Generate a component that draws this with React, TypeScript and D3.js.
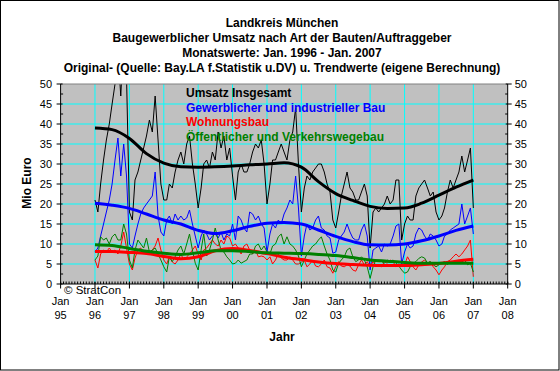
import React from "react";
import * as d3 from "d3";

// ---------- data (Mio Euro, monthly Jan 1996 - Jan 2007) ----------
const insgesamt = [
  21, 18, 25, 31, 36, 40, 45, 50, 58, 47, 62, 52,
  18, 16, 26, 28, 31, 34, 37, 41, 38, 47, 36, 25,
  21, 21, 25, 24, 28, 31, 33, 30, 35, 37, 30, 25,
  19, 24, 30, 31, 29, 33, 31, 38, 34, 37, 31, 34,
  27, 21, 28, 30, 28, 28, 30, 33, 35, 34, 36, 30,
  20, 25, 31, 31, 33, 35, 33, 31, 36, 38, 44, 30,
  18, 24, 27, 26, 28, 29, 30, 30, 28, 25, 23, 16,
  14, 18, 22, 25, 28, 24, 23, 21, 21, 23, 25, 22,
  9, 18, 19, 18, 19, 20, 22, 20, 21, 26, 26, 11,
  15, 17, 16, 16, 22, 24, 25, 26, 24, 22, 23, 18,
  16, 17, 19, 23, 26, 24, 26, 28, 32, 28, 31, 34,
  19,
];
const gewerblich = [
  8, 9, 12, 15, 18, 21, 25, 31, 36.5, 27, 35, 27,
  10, 9, 12, 15, 17.5, 19, 20, 21, 22, 28, 17, 13,
  12, 16, 17, 15, 17.5, 16, 17, 16, 16.5, 18.5, 15, 12,
  9, 12, 13.5, 12.5, 11, 12, 12.5, 11.5, 13, 11, 12.5, 12,
  15, 11, 17, 16, 14, 13, 18, 17.5, 16, 17, 15, 14,
  8, 12.5, 15, 14, 16, 15, 17.5, 19, 21, 20, 27, 19,
  7, 12, 15, 13.5, 14, 16, 17, 14, 13.5, 12, 11.5, 7.7,
  8, 11, 12, 13, 15, 13, 11.5, 11, 11, 13.5, 15, 12,
  3.5, 8.5, 9, 9.5, 8, 10, 9.5, 10, 12, 14.5, 15, 5,
  8, 10, 9, 9.5, 12.5, 14, 13.5, 12, 11, 12.5, 12, 11,
  9.5, 10, 12, 12.5, 13.5, 14, 14.5, 15, 20, 15, 17, 19,
  12.5,
];
const wohnungsbau = [
  6, 4, 7.5, 8.5, 8, 9, 8, 8.5, 7.5, 9.5, 13, 9,
  5, 3.5, 6.5, 8.5, 9, 7.5, 8.5, 7.5, 8.5, 9.5, 11.5, 8.5,
  6, 5, 6.8, 5.5, 5, 6, 7.5, 6, 6.8, 7.5, 8.5, 9.5,
  7.5, 6, 8.5, 9, 10, 11, 10, 9.5, 11, 10, 12, 11.5,
  9.5, 10, 9, 7.5, 9.5, 10, 8.5, 7.5, 8.5, 6.8, 7, 6.8,
  6, 6.8, 5, 6, 7.5, 6.5, 6, 6, 6.8, 6, 5, 5,
  5.5, 6, 4.3, 5, 6, 4.5, 4.3, 5, 6, 4.3, 4, 2.7,
  4.3, 5.6, 4.5, 4.3, 4.8, 4.5, 3.5, 3.2, 4.8, 6, 4.8, 5.6,
  4.3, 5.6, 4.8, 4.5, 4.3, 5.6, 5.2, 6, 5.6, 4.3, 5, 4.5,
  4.8, 6.8, 5.6, 4.3, 3.5, 4.8, 5.5, 6, 5.2, 5.6, 4.3, 3.5,
  2.3, 3.5, 4.3, 5.6, 6, 6.8, 7.5, 6.8, 7.5, 8.5, 9.5, 11,
  1.8,
];
const oeffentlich = [
  6, 7, 11.8, 11, 11.5, 10, 11.8, 12.5, 11, 11, 15, 12.5,
  6, 4, 8.5, 11, 10, 9, 11.5, 8, 8.5, 9, 7.5, 6,
  4.3, 3, 6.8, 5.6, 6.8, 8.5, 9.5, 7.5, 10, 12.5, 8.5, 5.2,
  3.5, 8.5, 12.5, 7, 8.5, 11, 14, 11, 8.5, 8, 6.8, 6,
  5, 5.2, 6, 5.2, 5.6, 6, 7.5, 7.5, 9.5, 10, 8.5, 9.5,
  8, 7.5, 9.5, 10, 11.8, 12.5, 10, 11.8, 10, 9.5, 8.5, 7,
  4.3, 6, 7.5, 8.5, 9.5, 10, 11, 11.8, 9.5, 7.5, 6, 3.5,
  3, 5.2, 6, 6.8, 8.5, 9, 6.8, 5.6, 6, 6.8, 6, 4.3,
  1.4, 4.3, 6, 5.6, 5.6, 5.2, 6, 5.6, 6, 5.2, 4.5, 3.5,
  2.7, 3, 4.3, 5.2, 5.6, 6.4, 6.8, 6.5, 5.2, 5.6, 4.8, 4.3,
  4.8, 5.2, 5.6, 4.8, 5.6, 5.2, 5.6, 5.2, 5.5, 6, 4.8, 5.2,
  3,
];
// Trend values, read every six months (Jan/Jul 1996 - Jan 2007)
const insgesamtTrend = [39.0, 38.6, 36.4, 32.6, 30.2, 29.3, 29.2, 29.3, 29.5, 29.8, 30.0, 30.3, 29.2, 25.6, 22.6, 20.9, 19.4, 18.9, 19.0, 20.2, 22.2, 24.2, 26.0];
const gewerblichTrend = [20.2, 19.7, 18.9, 17.5, 16.0, 15.0, 13.4, 12.6, 13.3, 14.4, 15.2, 15.4, 15.0, 13.5, 11.9, 10.6, 9.8, 9.75, 10.0, 10.8, 12.0, 13.4, 14.5];
const wohnungsbauTrend = [8.1, 8.1, 7.9, 7.6, 6.9, 6.3, 6.8, 8.3, 8.9, 8.4, 7.6, 6.7, 6.1, 5.5, 5.1, 4.9, 4.7, 4.6, 4.6, 4.8, 5.1, 5.7, 6.2];
const oeffentlichTrend = [9.8, 9.6, 8.9, 8.2, 7.7, 7.4, 7.8, 8.3, 8.3, 8.1, 7.8, 7.7, 7.6, 7.4, 7.1, 6.6, 6.0, 5.7, 5.4, 5.2, 5.2, 5.2, 5.2];

const seriesNames = [
  "Umsatz Insgesamt",
  "Gewerblicher und industrieller Bau",
  "Wohnungsbau",
  "Öffentlicher und Verkehrswegebau",
];
const seriesColors = ["#000000", "#0000ff", "#ff0000", "#008000"];
const titleLines = [
  "Landkreis München",
  "Baugewerblicher Umsatz nach Art der Bauten/Auftraggeber",
  "Monatswerte: Jan. 1996 - Jan. 2007",
  "Original- (Quelle: Bay.LA f.Statistik u.DV) u. Trendwerte (eigene Berechnung)",
];
const yTicks = [0, 5, 10, 15, 20, 25, 30, 35, 40, 45, 50];

// ---------- layout ----------
const W = 560;
const H = 371;
const PL = 60.6, PR = 507.7, PT = 84, PB = 284;
const FONT = "'Liberation Sans', Arial, Helvetica, sans-serif";

const monthDates = d3.timeMonth.range(new Date(1996, 0, 1), new Date(2007, 1, 1));
const trendDates = d3.timeMonth.every(6)!.range(new Date(1996, 0, 1), new Date(2007, 1, 1));
const yearDates = d3.timeYear.range(new Date(1995, 0, 1), new Date(2008, 0, 2));
const minorMonths = d3.timeMonth.range(new Date(1995, 0, 1), new Date(2008, 0, 2));

const x = d3.scaleTime().domain([new Date(1995, 0, 1), new Date(2008, 0, 1)]).range([PL, PR]);
const y = d3.scaleLinear().domain([0, 50]).range([PB, PT]);

const rawLine = d3
  .line<number>()
  .x((_, i) => x(monthDates[i]))
  .y((d) => y(d));
const trendLine = d3
  .line<number>()
  .x((_, i) => x(trendDates[i]))
  .y((d) => y(d))
  .curve(d3.curveMonotoneX);

const raws = [insgesamt, gewerblich, wohnungsbau, oeffentlich];
const trends = [insgesamtTrend, gewerblichTrend, wohnungsbauTrend, oeffentlichTrend];
const minorY = d3.range(2.5, 50, 5);

export default function App() {
  const yearFmt = d3.timeFormat("%y");
  return (
    <div style={{ position: "absolute", left: 0, top: 0 }}>
      <svg width={W} height={H} style={{ display: "block" }} fontFamily={FONT}>
        <rect x={0} y={0} width={W} height={H} fill="#ffffff" />
        <rect x={0.5} y={0.5} width={558.5} height={369.5} fill="none" stroke="#000" strokeWidth={1} />
        <defs>
          <clipPath id="plotClip">
            <rect x={PL} y={PT} width={PR - PL} height={PB - PT} />
          </clipPath>
        </defs>

        {/* titles */}
        {titleLines.map((t, i) => (
          <text key={t} x={282} y={27 + i * 15} textAnchor="middle" fontSize={12} fontWeight="bold" fill="#000">
            {t}
          </text>
        ))}

        {/* plot background */}
        <rect x={PL} y={PT} width={PR - PL} height={PB - PT} fill="#c0c0c0" />

        {/* grid */}
        {yTicks.slice(1, -1).map((v) => (
          <line key={"gy" + v} x1={PL} x2={PR} y1={y(v)} y2={y(v)} stroke="#00ffff" strokeWidth={1} />
        ))}
        {yearDates.slice(1, -1).map((d) => (
          <line key={"gx" + d.getTime()} x1={x(d)} x2={x(d)} y1={PT} y2={PB} stroke="#00ffff" strokeWidth={1} />
        ))}

        {/* raw series and trends */}
        <g clipPath="url(#plotClip)">
          {raws.map((s, i) => (
            <path key={"r" + i} d={rawLine(s) || ""} fill="none" stroke={seriesColors[i]} strokeWidth={1} />
          ))}
          {trends.map((s, i) => (
            <path key={"t" + i} d={trendLine(s) || ""} fill="none" stroke={seriesColors[i]} strokeWidth={3} />
          ))}
        </g>

        {/* plot border */}
        <line x1={PL} x2={PR} y1={PT} y2={PT} stroke="#808080" strokeWidth={1} />
        <line x1={PL} x2={PL} y1={PT} y2={PB} stroke="#000" strokeWidth={1} />
        <line x1={PR} x2={PR} y1={PT} y2={PB} stroke="#000" strokeWidth={1} />
        <line x1={PL} x2={PR} y1={PB} y2={PB} stroke="#000" strokeWidth={1} />

        {/* y axes ticks and labels */}
        {yTicks.map((v) => (
          <g key={"yt" + v}>
            <line x1={PL - 4} x2={PL + 2} y1={y(v)} y2={y(v)} stroke="#000" />
            <line x1={PR - 2} x2={PR + 4} y1={y(v)} y2={y(v)} stroke="#000" />
            <text x={PL - 8.5} y={y(v) + 4} textAnchor="end" fontSize={11} fill="#000">
              {v}
            </text>
            <text x={PR + 7} y={y(v) + 4} textAnchor="start" fontSize={11} fill="#000">
              {v}
            </text>
          </g>
        ))}
        {minorY.map((v) => (
          <g key={"ym" + v}>
            <line x1={PL} x2={PL + 2.5} y1={y(v)} y2={y(v)} stroke="#000" />
            <line x1={PR - 2.5} x2={PR} y1={y(v)} y2={y(v)} stroke="#000" />
          </g>
        ))}

        {/* x axis ticks and labels */}
        {minorMonths.map((d) => (
          <line key={"xm" + d.getTime()} x1={x(d)} x2={x(d)} y1={PB - 2.5} y2={PB} stroke="#000" />
        ))}
        {yearDates.map((d) => (
          <g key={"xt" + d.getTime()}>
            <line x1={x(d)} x2={x(d)} y1={PB - 2} y2={PB + 4.5} stroke="#000" />
            <text x={x(d)} y={304.5} textAnchor="middle" fontSize={11} fill="#000">
              Jan
            </text>
            <text x={x(d)} y={319} textAnchor="middle" fontSize={11} fill="#000">
              {yearFmt(d)}
            </text>
          </g>
        ))}

        {/* axis titles */}
        <text x={282} y={340.5} textAnchor="middle" fontSize={12} fontWeight="bold" fill="#000">
          Jahr
        </text>
        <text
          transform="translate(31,183) rotate(-90)"
          textAnchor="middle"
          fontSize={12}
          fontWeight="bold"
          fill="#000"
        >
          Mio Euro
        </text>

        {/* legend */}
        {seriesNames.map((n, i) => (
          <text key={n} x={186} y={97 + i * 14.5} fontSize={12} fontWeight="bold" fill={seriesColors[i]}>
            {n}
          </text>
        ))}

        <text x={64} y={293.5} fontSize={11.5} fill="#000">
          © StratCon
        </text>
      </svg>
    </div>
  );
}
